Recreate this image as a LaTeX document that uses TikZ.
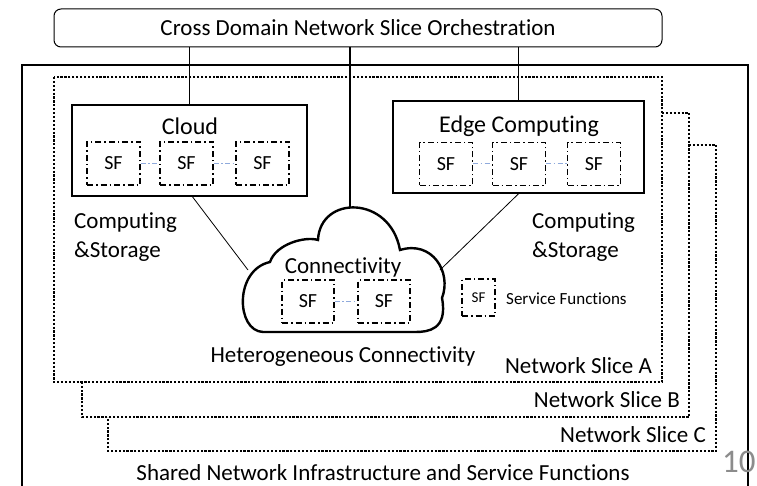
\documentclass[tikz,border=0pt]{standalone}
\usepackage{fontspec}
\setmainfont{Carlito}[Ligatures=NoCommon]
\usetikzlibrary{positioning}

\definecolor{linkblue}{HTML}{8FAADC}

\tikzset{
	sfbox/.style={draw, dash pattern=on 6pt off 3pt on 1.5pt off 3pt, line width=1.2pt, minimum width=53pt, minimum height=43pt, inner sep=0pt, font=\fontsize{20}{24}\selectfont},
	sflink/.style={draw=linkblue, dash pattern=on 5pt off 2.5pt on 1.5pt off 2.5pt, line width=1pt},
	domainbox/.style={draw, line width=1.6pt, inner sep=0pt},
	slicepath/.style={line width=2.2pt, dash pattern=on 2.2pt off 1.7pt},
	lbl/.style={inner sep=0pt, font=\fontsize{23}{29}\selectfont},
	title/.style={inner sep=0pt, font=\fontsize{24}{28}\selectfont}
}

\begin{document}
\begin{tikzpicture}[x=1pt,y=-1pt]
	\useasboundingbox (0,0) rectangle (757,486);
	
	% shared infrastructure and slices
	\draw[line width=1.6pt] (22,486) -- (22,65) -- (748,65) -- (748,486);
	\draw[slicepath] (54,77) rectangle (662,382);
	\draw[slicepath] (662,113) -- (689,113) -- (689,417) -- (82,417) -- (82,382);
	\draw[slicepath] (689,145) -- (716,145) -- (716,451) -- (108,451) -- (108,417);
	
	\node[draw, rounded corners=7pt, line width=1pt, minimum width=608pt, minimum height=38pt, lbl] (orch) at (358,28) {Cross Domain Network Slice Orchestration};
	
	% domains
	\node[domainbox, minimum width=235pt, minimum height=91pt] (cloudbox) at (189.5,150.5) {};
	\node[domainbox, minimum width=251pt, minimum height=92pt] (edgebox) at (518.5,147) {};
	\node[title, anchor=base] (cloudtitle) at (190,135) {Cloud};
	\node[title, anchor=base] (edgetitle) at (519,133) {Edge Computing};
	
	\foreach \n/\x in {c1/113.5, c2/186.5, c3/262.5}
		\node[sfbox] (\n) at (\x,163.5) {SF};
	\foreach \n/\x in {e1/446, e2/519, e3/594}
		\node[sfbox] (\n) at (\x,164) {SF};
	\draw[sflink] (c1) -- (c2);
	\draw[sflink] (c2) -- (c3);
	\draw[sflink] (e1) -- (e2);
	\draw[sflink] (e2) -- (e3);
	
	% connectivity cloud
	\draw[line width=2.4pt] (263,332)
		.. controls (236,331) and (234,270) .. (270,262)
		.. controls (276,244) and (305,236) .. (318,240)
		.. controls (320,195) and (390,195) .. (400,250)
		.. controls (432,240) and (452,272) .. (442,298)
		.. controls (448,330) and (428,332) .. (415,332)
		-- cycle;
	\coordinate (cloudN) at (350,208);
	\coordinate (cloudW) at (248,270);
	\coordinate (cloudE) at (440,270);
	\node[lbl, anchor=base] (conntitle) at (343,273) {Connectivity};
	\node[sfbox, minimum width=52pt] (k1) at (308,301.5) {SF};
	\node[sfbox, minimum width=52pt] (k2) at (384,301.5) {SF};
	\draw[sflink] (k1) -- (k2);
	
	% orchestration links
	\draw[line width=1.8pt] (orch.south -| cloudbox.north) -- (cloudbox.north);
	\draw[line width=1.8pt] (orch.south -| cloudN) -- (cloudN);
	\draw[line width=1.8pt] (orch.south -| edgebox.north) -- (edgebox.north);
	\draw[line width=0.8pt] ([xshift=3pt]cloudbox.south) -- (cloudW);
	\draw[line width=0.8pt] (edgebox.south) -- (cloudE);
	
	% labels
	\node[lbl, align=left, anchor=base west] (compL) at (74,258) {Computing\\\&Storage};
	\node[lbl, align=left, anchor=base west] (compR) at (532,258) {Computing\\\&Storage};
	\node[sfbox, minimum width=33pt, minimum height=37pt, font=\fontsize{15}{18}\selectfont] (legendsf) at (478.5,297.5) {SF};
	\node[inner sep=0pt, anchor=west, font=\fontsize{17}{20}\selectfont] (legendtxt) at (506,299) {Service Functions};
	\node[lbl, anchor=base] (hetero) at (343,362) {Heterogeneous Connectivity};
	\node[lbl, anchor=base east] (sliceA) at (652,373) {Network Slice A};
	\node[lbl, anchor=base east] (sliceB) at (680,407) {Network Slice B};
	\node[lbl, anchor=base east] (sliceC) at (706,442) {Network Slice C};
	\node[lbl, anchor=base] (shared) at (383,480) {Shared Network Infrastructure and Service Functions};
	\node[inner sep=0pt, anchor=base west, text=black!45, font=\fontsize{33}{36}\selectfont] (pagenum) at (722,472) {10};
\end{tikzpicture}
\end{document}
